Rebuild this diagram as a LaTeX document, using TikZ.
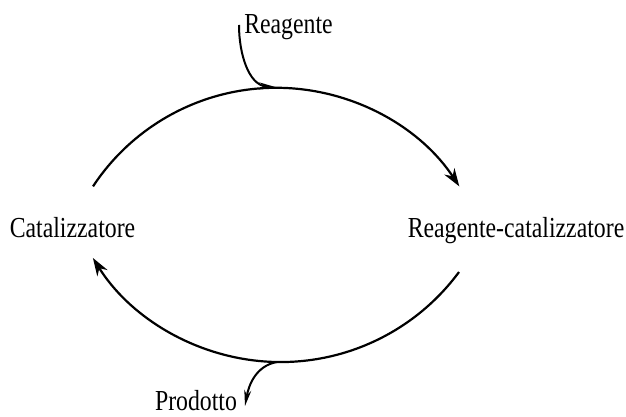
\documentclass[tikz,border=0pt]{standalone}
\usepackage{fontspec}
\setmainfont[FakeStretch=0.82]{Liberation Serif}
\usetikzlibrary{arrows.meta}

\begin{document}
\begin{tikzpicture}[x=1pt,y=1pt,
    species/.style={inner sep=0pt, anchor=base, font=\fontsize{29}{33}\selectfont},
    cycle/.style={line width=2.2pt},
    branch/.style={line width=2pt}]
          \useasboundingbox (0,0) rectangle (626,417);

          % Species of the cycle
          \node[species] (cat) at (72.5,179) {Catalizzatore};
          \node[species] (rc) at (516,179) {Reagente-catalizzatore};
          \node[species] (reag) at (288.5,383) {Reagente};
          \node[species] (prod) at (196,6.5) {Prodotto};

          % Ends of the arcs and of the side branches
          \coordinate (cat top) at (93,230.6);
          \coordinate (rc bottom) at (459,145);
          \coordinate (reag tail) at (239,392);
          \coordinate (reag join) at (277,329.5);
          \coordinate (prod start) at (277,55);
          \coordinate (prod tip) at (245,11);

          % Upper arc: catalyst takes up the reagent
          \draw[cycle, -{Stealth[length=18pt,width=12pt]}] (cat top)
            arc[start angle=146.6, end angle=33.4, radius=219.4];

          % Lower arc: back to the catalyst
          \draw[cycle, -{Stealth[length=18pt,width=12pt]}] (rc bottom)
            arc[start angle=-36.4, end angle=-148, radius=221.5];

          % Reagent coming in
          \draw[branch, -{Stealth[length=18pt,width=7pt]}] (reag tail) to[out=-90, in=175] (reag join);

          % Product going out
          \draw[branch, -{Stealth[length=16pt,width=7pt]}] (prod start) to[out=190, in=80] (prod tip);

        \end{tikzpicture}
\end{document}
